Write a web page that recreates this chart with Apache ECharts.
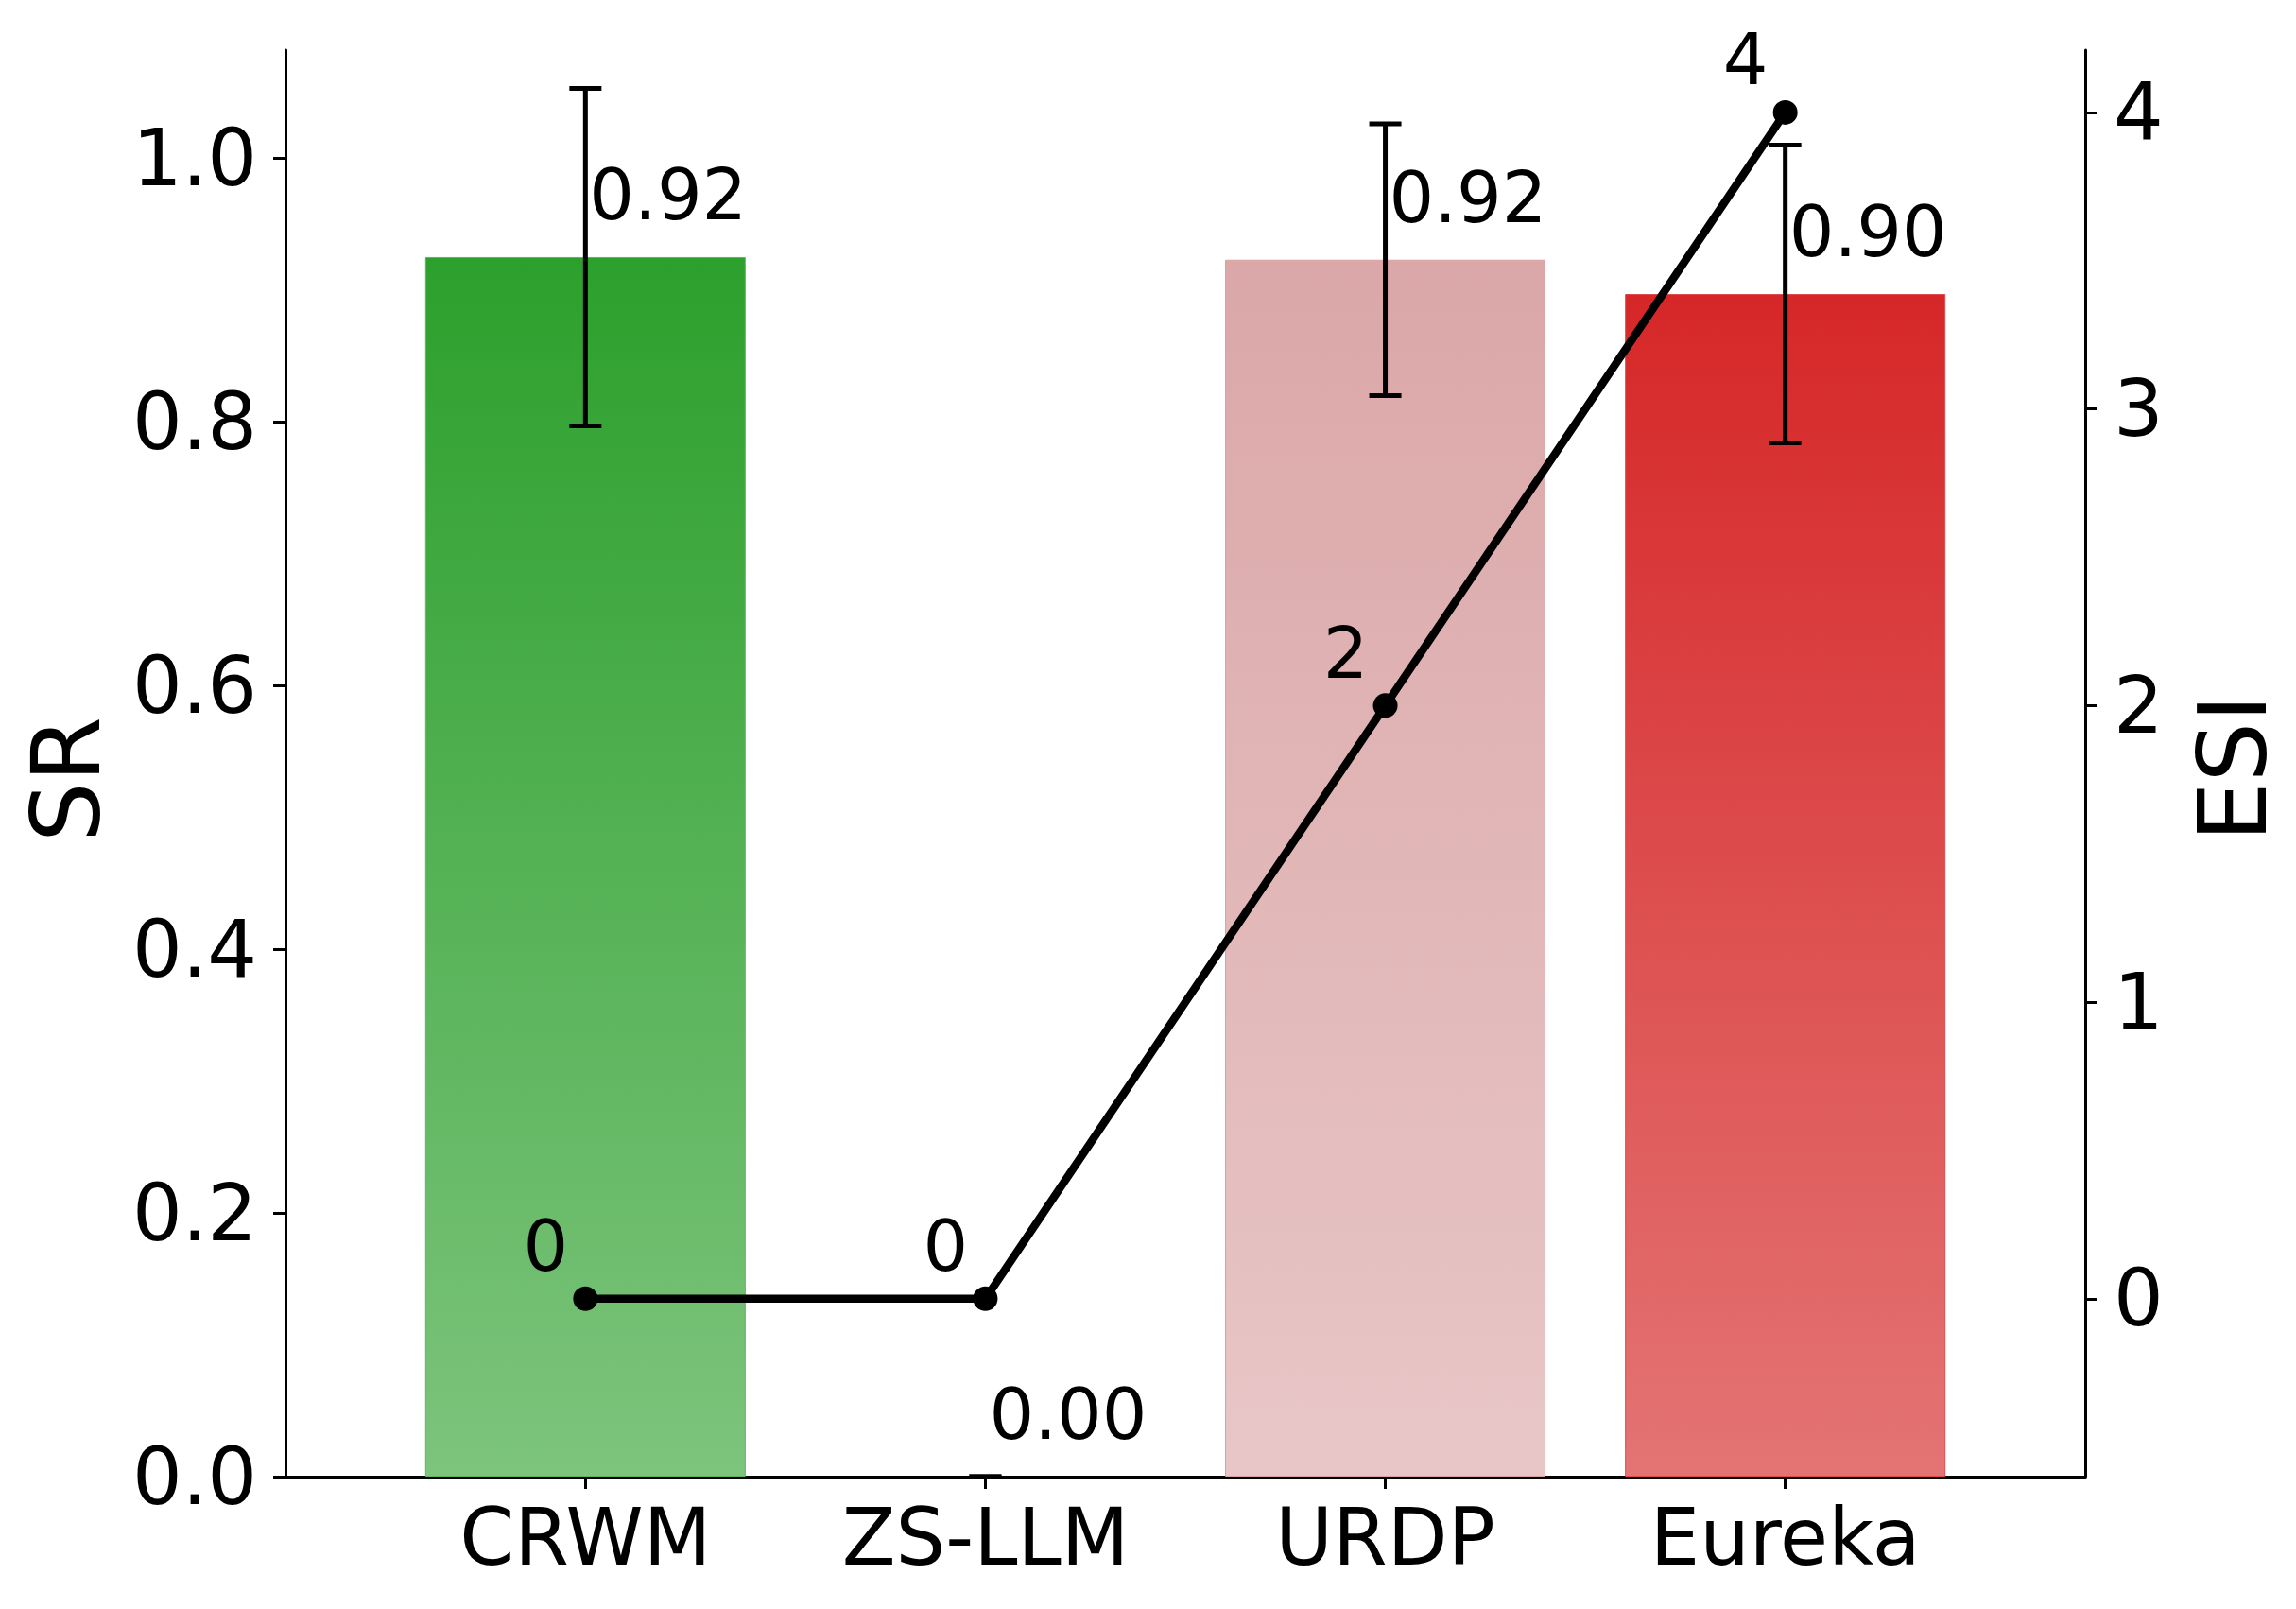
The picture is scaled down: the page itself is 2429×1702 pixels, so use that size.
<!DOCTYPE html>
<html>
<head>
<meta charset="utf-8">
<script src="https://cdn.jsdelivr.net/npm/echarts@6/dist/echarts.min.js"></script>
<style>
html,body{margin:0;padding:0;background:#fff;}
#chart{width:2429px;height:1702px;}
</style>
</head>
<body>
<div id="chart"></div>
<script>
const categories = ['CRWM', 'ZS-LLM', 'URDP', 'Eureka'];
const srValues = [0.925, 0.0, 0.923, 0.897];
const srErrors = [0.128, 0.0, 0.103, 0.113];
const srLabels = ['0.92', '0.00', '0.92', '0.90'];
const esiValues = [0, 0, 2, 4];
const srTicks = [0, 0.2, 0.4, 0.6, 0.8, 1.0];
const esiTicks = [0, 1, 2, 3, 4];
const barTopColors = ['#2ca02c', '#2ca02c', '#dba7a8', '#d62728'];
const barBottomColors = ['#7dc47d', '#7dc47d', '#e8c6c7', '#e47474'];
const barEdgeColors = ['#5cb85c', 'rgba(0,0,0,0)', '#d9a0a1', '#e04a4a'];

const FONT = 'DejaVu Sans';
const chart = echarts.init(document.getElementById('chart'), null, {renderer: 'canvas'});

const barData = categories.map((c, i) => ({
  value: [i, srValues[i]],
  itemStyle: {
    color: new echarts.graphic.LinearGradient(0, 0, 0, 1, [
      {offset: 0, color: barTopColors[i]},
      {offset: 1, color: barBottomColors[i]}
    ]),
    borderColor: barEdgeColors[i],
    borderWidth: srValues[i] > 0 ? 1 : 0
  }
}));

const errData = categories.map((c, i) => [i, srValues[i], srErrors[i]]);
const lineData = categories.map((c, i) => [i, esiValues[i]]);

const axisLineStyle = {color: '#000', width: 3};
const tickRich = {v: {fontFamily: FONT, fontSize: 83, color: '#000', padding: [14, 0, 0, 0]}};

const option = {
  backgroundColor: '#fff',
  animation: false,
  grid: {left: 302, right: 222, top: 53, bottom: 140, containLabel: false},
  xAxis: {
    type: 'value',
    min: -0.75,
    max: 3.75,
    splitLine: {show: false},
    axisLine: {show: true, onZero: false, lineStyle: axisLineStyle},
    axisTick: {show: true, length: 13, lineStyle: {color: '#000', width: 3}, customValues: [0, 1, 2, 3]},
    axisLabel: {
      customValues: [0, 1, 2, 3],
      formatter: v => categories[Math.round(v)] || '',
      fontFamily: FONT, fontSize: 83, color: '#000', margin: 30
    }
  },
  yAxis: [
    {
      type: 'value',
      min: 0,
      max: 1.082,
      position: 'left',
      name: 'SR',
      nameLocation: 'middle',
      nameGap: 166,
      nameTextStyle: {fontFamily: FONT, fontSize: 100, color: '#000', padding: [0, 34, 0, 0]},
      splitLine: {show: false},
      axisLine: {show: true, onZero: false, lineStyle: axisLineStyle},
      axisTick: {show: true, length: 13, lineStyle: {color: '#000', width: 3}, customValues: srTicks},
      axisLabel: {
        customValues: srTicks,
        formatter: v => '{v|' + v.toFixed(1) + '}',
        rich: tickRich,
        fontFamily: FONT, fontSize: 83, color: '#000', margin: 30
      }
    },
    {
      type: 'value',
      min: -0.6,
      max: 4.21,
      position: 'right',
      name: 'ESI',
      nameLocation: 'middle',
      nameGap: 115,
      nameTextStyle: {fontFamily: FONT, fontSize: 100, color: '#000', padding: [0, 10, 0, 0]},
      splitLine: {show: false},
      axisLine: {show: true, onZero: false, lineStyle: axisLineStyle},
      axisTick: {show: true, length: 13, lineStyle: {color: '#000', width: 3}, customValues: esiTicks},
      axisLabel: {
        customValues: esiTicks,
        formatter: v => '{v|' + String(v) + '}',
        rich: tickRich,
        fontFamily: FONT, fontSize: 83, color: '#000', margin: 30
      }
    }
  ],
  series: [
    {
      type: 'bar',
      xAxisIndex: 0,
      yAxisIndex: 0,
      barWidth: 339,
      data: barData,
      z: 1
    },
    {
      type: 'custom',
      xAxisIndex: 0,
      yAxisIndex: 0,
      data: errData,
      z: 3,
      renderItem: function (params, api) {
        const x = api.value(0), v = api.value(1), e = api.value(2);
        const top = api.coord([x, v + e]);
        const bot = api.coord([x, v - e]);
        const mid = api.coord([x, v]);
        const cap = 17;
        const st = {stroke: '#000', lineWidth: 5};
        return {
          type: 'group',
          children: [
            {type: 'line', shape: {x1: top[0], y1: top[1], x2: bot[0], y2: bot[1]}, style: st},
            {type: 'line', shape: {x1: top[0] - cap, y1: top[1], x2: top[0] + cap, y2: top[1]}, style: st},
            {type: 'line', shape: {x1: bot[0] - cap, y1: bot[1], x2: bot[0] + cap, y2: bot[1]}, style: st},
            {type: 'text', style: {
              x: mid[0] + 4, y: mid[1] - 59,
              text: srLabels[params.dataIndex],
              fill: '#000', fontFamily: FONT, fontSize: 75,
              align: 'left', verticalAlign: 'middle'
            }}
          ]
        };
      }
    },
    {
      type: 'line',
      xAxisIndex: 0,
      yAxisIndex: 1,
      data: lineData,
      z: 5,
      symbol: 'circle',
      symbolSize: 26,
      lineStyle: {color: '#000', width: 8.5},
      itemStyle: {color: '#000'},
      label: {
        show: true,
        position: [-29, -36],
        align: 'center',
        verticalAlign: 'middle',
        formatter: p => String(p.value[1]),
        fontFamily: FONT, fontSize: 75, color: '#000'
      }
    }
  ]
};
chart.setOption(option);
</script>
</body>
</html>
